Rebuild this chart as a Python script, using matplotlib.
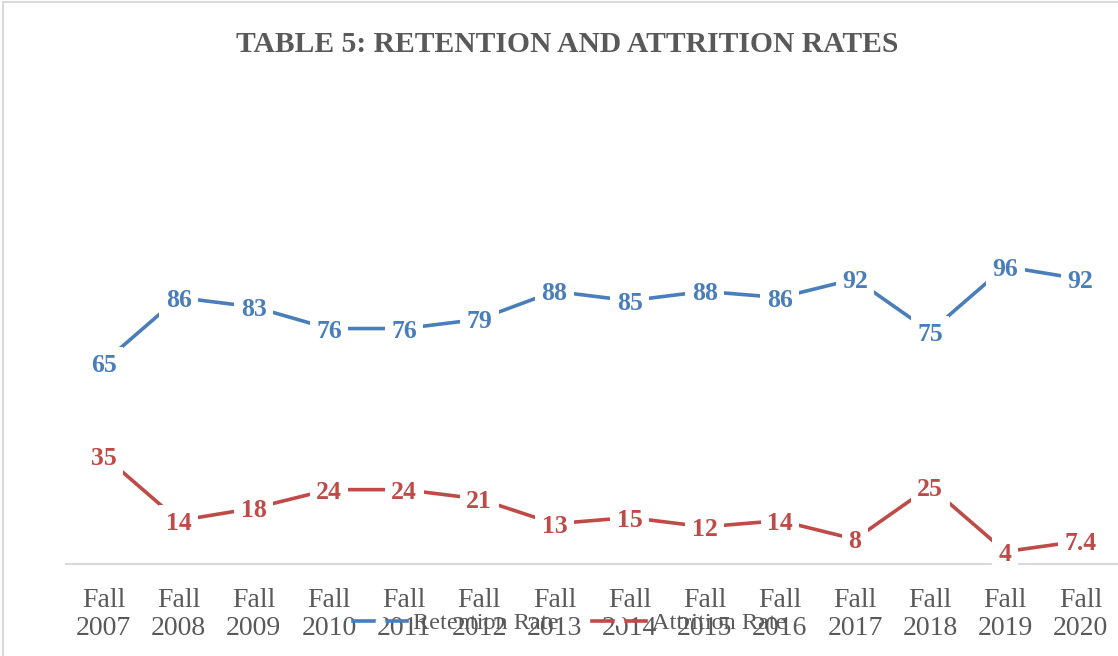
import matplotlib
matplotlib.use('Agg')
import matplotlib.pyplot as plt
from matplotlib.lines import Line2D
from matplotlib.patches import Rectangle

# data
years = ["Fall\n2007", "Fall\n2008", "Fall\n2009", "Fall\n2010", "Fall\n2011", "Fall\n2012", "Fall\n2013",
         "Fall\n2014", "Fall\n2015", "Fall\n2016", "Fall\n2017", "Fall\n2018", "Fall\n2019", "Fall\n2020"]
retention = [65, 86, 83, 76, 76, 79, 88, 85, 88, 86, 92, 75, 96, 92]
attrition = [35, 14, 18, 24, 24, 21, 13, 15, 12, 14, 8, 25, 4, 7.4]

BLUE = '#4A7EBB'
RED = '#BE4B48'
GRAY = '#595959'
SERIF = ['Liberation Serif', 'DejaVu Serif']

plt.rcParams['font.family'] = SERIF

fig = plt.figure(figsize=(11.18, 6.56), dpi=100)
ax = fig.add_axes([66 / 1118, 1 - 564 / 656, 1 - 66 / 1118, 464 / 656])

x = list(range(len(years)))
ax.plot(x, retention, color=BLUE, lw=2.6, solid_capstyle='butt', zorder=2)
ax.plot(x, attrition, color=RED, lw=2.6, solid_capstyle='butt', zorder=2)

box = dict(boxstyle='square,pad=0.25', fc='white', ec='none')
for xi, v in zip(x, retention):
    ax.text(xi, v, f'{v:g}', color=BLUE, fontsize=18.5, fontweight='bold', ha='center',
            va='center_baseline', bbox=box, zorder=5, clip_on=False)
for xi, v in zip(x, attrition):
    ax.text(xi, v, f'{v:g}', color=RED, fontsize=18.5, fontweight='bold', ha='center',
            va='center_baseline', bbox=box, zorder=5, clip_on=False)

ax.set_xlim(-0.5, len(years) - 0.5)
ax.set_ylim(0, 464 / 3.098)
ax.set_xticks(x)
ax.set_xticklabels(years, fontsize=20, color=GRAY, linespacing=1.18)
ax.tick_params(axis='x', length=0, pad=17)
ax.set_yticks([])
for s in ['top', 'right', 'left']:
    ax.spines[s].set_visible(False)
ax.spines['bottom'].set_color('#D9D9D9')
ax.spines['bottom'].set_linewidth(1.5)
ax.spines['bottom'].set_zorder(1)

fig.text(567 / 1118, 1 - 45 / 656, 'TABLE 5: RETENTION AND ATTRITION RATES', ha='center', va='center',
         fontsize=21.3, fontweight='bold', color=GRAY)

# chart border
fig.add_artist(Rectangle((3 / 1118, -0.01), 1.1, 1 - 2 / 656 + 0.01, transform=fig.transFigure,
                         fill=False, ec='#D9D9D9', lw=1.5))

handles = [Line2D([], [], color=BLUE, lw=2.6, marker='o', ms=6, mfc='white', mec='white'),
           Line2D([], [], color=RED, lw=2.6, marker='o', ms=6, mfc='white', mec='white')]
fig.legend(handles, ['Retention Rate', 'Attrition Rate'], loc='center', ncol=2, frameon=False,
           bbox_to_anchor=(570 / 1118, 1 - 623 / 656), fontsize=17.5, labelcolor=GRAY,
           handlelength=2.2, columnspacing=1.4, handletextpad=0.25)

plt.savefig('out.png', dpi=100)
